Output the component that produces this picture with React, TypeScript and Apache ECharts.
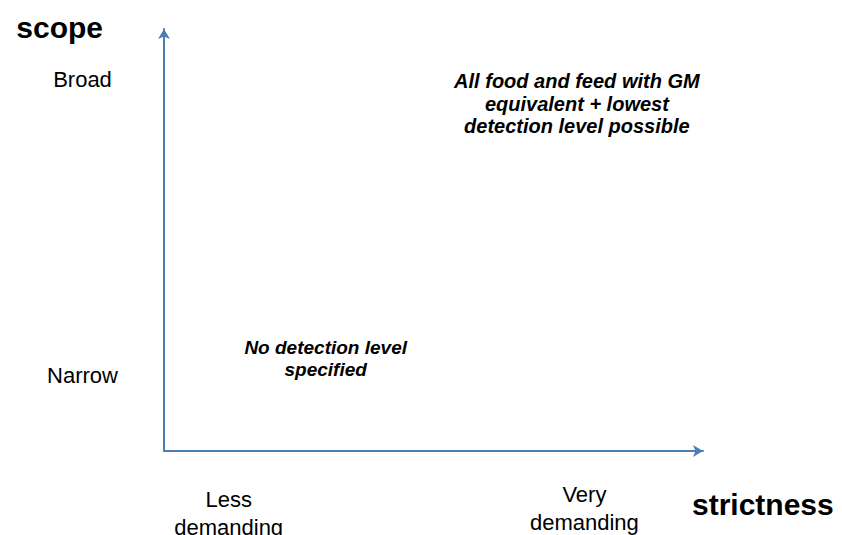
import React, { useEffect, useRef } from "react";
import * as echarts from "echarts";

// Tick positions on a 0..100 scale for each axis, with their labels
const xTickValuesLow = [12];
const xTickLabelsLow = ["Less\ndemanding"];
const xTickValuesHigh = [78];
const xTickLabelsHigh = ["Very\ndemanding"];
const yTickValues = [18, 88];
const yTickLabels = ["Narrow", "Broad"];

// Annotations placed in the strictness/scope plane
const noteX = [30, 76.6];
const noteY = [22, 82.3];
const noteText = [
  "No detection level\nspecified",
  "All food and feed with GM\nequivalent + lowest\ndetection level possible",
];

const xAxisName = "strictness";
const yAxisName = "scope";

const FONT = "'Liberation Sans', Arial, Helvetica, sans-serif";
const BLUE = "#4a7ebb";

export default function App() {
  const ref = useRef<HTMLDivElement>(null);

  useEffect(() => {
    if (!ref.current) return;
    const chart = echarts.init(ref.current, null, { renderer: "svg" });

    const noteSizes = [19, 20];
    const noteLineHeights = [22, 22.5];

    const option: any = {
      animation: false,
      backgroundColor: "#ffffff",
      textStyle: { fontFamily: FONT },
      grid: {
        left: 164,
        right: 139,
        top: 29,
        bottom: 84,
        containLabel: false,
        outerBoundsMode: "none",
      },
      graphic: [
        {
          type: "text",
          left: 692,
          top: 489,
          silent: true,
          style: {
            text: xAxisName,
            fontFamily: FONT,
            fontSize: 30,
            fontWeight: "bold",
            fill: "#000",
          },
        },
      ],
      xAxis: [
        {
          type: "value",
          position: "bottom",
          min: 0,
          max: 100,
          axisLine: {
            show: true,
            onZero: false,
            symbol: ["none", "arrow"],
            symbolSize: [9, 10],
            lineStyle: { color: BLUE, width: 2 },
          },
          axisTick: { show: false },
          splitLine: { show: false },
          axisLabel: {
            customValues: xTickValuesLow,
            margin: 34,
            fontFamily: FONT,
            fontSize: 22,
            lineHeight: 28,
            color: "#000",
            align: "center",
            verticalAlign: "top",
            formatter: (v: number) => {
              const i = xTickValuesLow.indexOf(v);
              return i >= 0 ? xTickLabelsLow[i] : "";
            },
          },
        },
        {
          type: "value",
          position: "bottom",
          min: 0,
          max: 100,
          axisLine: { show: false },
          axisTick: { show: false },
          splitLine: { show: false },
          axisLabel: {
            customValues: xTickValuesHigh,
            margin: 29,
            fontFamily: FONT,
            fontSize: 22,
            lineHeight: 28,
            color: "#000",
            align: "center",
            verticalAlign: "top",
            formatter: (v: number) => {
              const i = xTickValuesHigh.indexOf(v);
              return i >= 0 ? xTickLabelsHigh[i] : "";
            },
          },
        },
      ],
      yAxis: {
        type: "value",
        min: 0,
        max: 100,
        name: yAxisName,
        nameLocation: "end",
        nameGap: 2,
        nameMoveOverlap: false,
        nameTextStyle: {
          fontFamily: FONT,
          fontSize: 30,
          fontWeight: "bold",
          color: "#000",
          align: "right",
          verticalAlign: "middle",
          padding: [0, 61, 0, 0],
        },
        axisLine: {
          show: true,
          onZero: false,
          symbol: ["none", "arrow"],
          symbolSize: [9, 10],
          lineStyle: { color: BLUE, width: 2 },
        },
        axisTick: { show: false },
        splitLine: { show: false },
        axisLabel: {
          customValues: yTickValues,
          margin: 81.5,
          fontFamily: FONT,
          fontSize: 22,
          color: "#000",
          align: "center",
          verticalAlign: "middle",
          formatter: (v: number) => {
            const i = yTickValues.indexOf(v);
            return i >= 0 ? yTickLabels[i] : "";
          },
        },
      },
      series: [
        {
          type: "scatter",
          xAxisIndex: 0,
          yAxisIndex: 0,
          symbolSize: 0,
          silent: true,
          itemStyle: { opacity: 1 },
          data: noteText.map((t, i) => ({
            value: [noteX[i], noteY[i]],
            name: t,
            label: {
              show: true,
              position: "inside",
              formatter: t,
              fontFamily: FONT,
              fontSize: noteSizes[i],
              lineHeight: noteLineHeights[i],
              fontWeight: "bold",
              fontStyle: "italic",
              color: "#000",
              opacity: 1,
              align: "center",
              verticalAlign: "middle",
            },
          })),
        },
      ],
    };

    chart.setOption(option);
    return () => chart.dispose();
  }, []);

  return (
    <div
      ref={ref}
      style={{ position: "fixed", left: 0, top: 0, width: 842, height: 535, background: "#fff" }}
    />
  );
}
